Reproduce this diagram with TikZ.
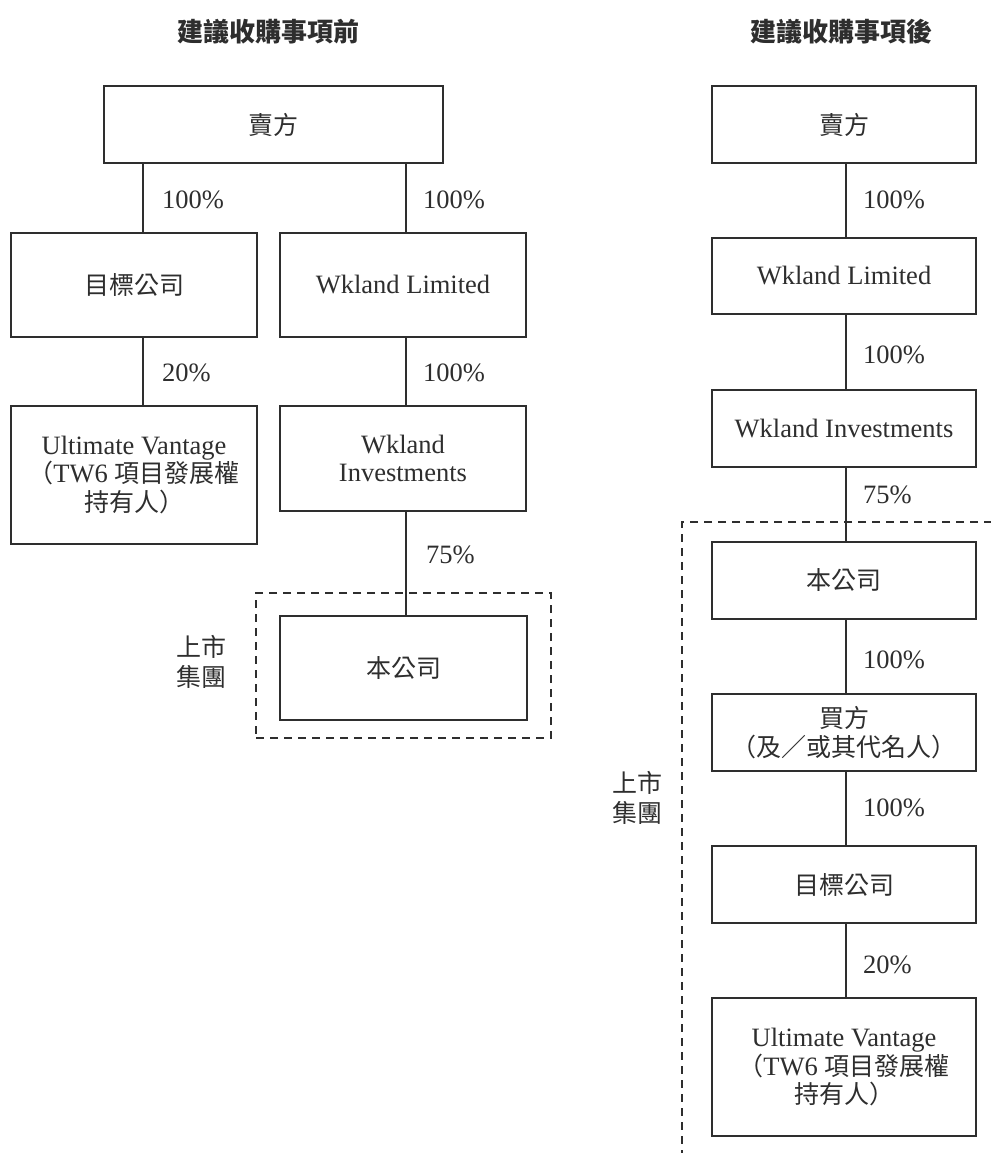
\documentclass[tikz,border=0pt]{standalone}
\usepackage{fontspec}
\setmainfont{Liberation Serif}
\newfontfamily\cjk{Noto Sans CJK TC}
\definecolor{ink}{HTML}{2E2E2E}
\tikzset{
  x=1pt, y=-1pt,
  every node/.style={text=ink, font=\fontsize{26.5}{28.5}\selectfont},
  entity/.style={draw=ink, line width=1.3pt, inner sep=0pt, align=center, fill=white},
  link/.style={draw=ink, line width=1.3pt},
  pct/.style={anchor=west, inner sep=0pt},
  frame/.style={draw=ink, line width=1.2pt, dash pattern=on 8pt off 6pt},
  heading/.style={font=\fontsize{26}{28}\selectfont\cjk\bfseries},
  grouplabel/.style={align=center, font=\fontsize{25}{30}\selectfont\cjk}
}
\newcommand{\zh}[1]{{\cjk\fontsize{25}{28.5}\selectfont #1}}
\begin{document}
\begin{tikzpicture}
\useasboundingbox (0,0) rectangle (990,1153);
% column guide coordinates
\coordinate (cLa) at (143,0);
\coordinate (cLb) at (406,0);
\coordinate (cR) at (846,0);

% titles
\node[heading] (titleL) at (268,32) {建議收購事項前};
\node[heading] (titleR) at (841,32) {建議收購事項後};

% ---------- left: before ----------
\node[frame, minimum width=295pt, minimum height=145pt, inner sep=0pt] (listedL) at (403.5,665.5) {};
\node[grouplabel] (listedLlab) at (201,662) {上市\\集團};

\node[entity, minimum width=339pt, minimum height=77pt] (sellerL) at (273.5,124.5) {\zh{賣方}};
\node[entity, minimum width=246pt, minimum height=104pt] (targetL) at (134,285) {\zh{目標公司}};
\node[entity, minimum width=246pt, minimum height=104pt] (wklL) at (403,285) {Wkland Limited};
\node[entity, minimum width=246pt, minimum height=138pt] (ultL) at (134,475) {Ultimate Vantage\\\zh{（}TW6 \zh{項目發展權}\\\zh{持有人）}};
\node[entity, minimum width=246pt, minimum height=105pt] (wkiL) at (403,458.5) {Wkland\\Investments};
\node[entity, minimum width=247pt, minimum height=104pt] (coL) at (403.5,668) {\zh{本公司}};

\draw[link] (sellerL.south -| cLa) -- (targetL.north -| cLa);
\draw[link] (sellerL.south -| cLb) -- (wklL.north -| cLb);
\draw[link] (targetL.south -| cLa) -- (ultL.north -| cLa);
\draw[link] (wklL.south -| cLb) -- (wkiL.north -| cLb);
\draw[link] (wkiL.south -| cLb) -- (coL.north -| cLb);

\node[pct] (pL1) at (162,200) {100\%};
\node[pct] (pL2) at (423,200) {100\%};
\node[pct] (pL3) at (162,373) {20\%};
\node[pct] (pL4) at (423,373) {100\%};
\node[pct] (pL5) at (426,555) {75\%};

% ---------- right: after ----------
\coordinate (frTR) at (992,522);
\coordinate (frTL) at (682,522);
\coordinate (frBL) at (682,1155);
\draw[frame] (frTR) -- (frTL) -- (frBL);
\node[grouplabel] (listedRlab) at (637,798) {上市\\集團};

\node[entity, minimum width=264pt, minimum height=77pt] (sellerR) at (844,124.5) {\zh{賣方}};
\node[entity, minimum width=264pt, minimum height=76pt] (wklR) at (844,276) {Wkland Limited};
\node[entity, minimum width=264pt, minimum height=77pt] (wkiR) at (844,428.5) {Wkland Investments};
\node[entity, minimum width=264pt, minimum height=77pt] (coR) at (844,580.5) {\zh{本公司}};
\node[entity, minimum width=264pt, minimum height=77pt] (buyerR) at (844,732.5) {\zh{買方}\\\zh{（及／或其代名人）}};
\node[entity, minimum width=264pt, minimum height=77pt] (targetR) at (844,884.5) {\zh{目標公司}};
\node[entity, minimum width=264pt, minimum height=138pt] (ultR) at (844,1067) {Ultimate Vantage\\\zh{（}TW6 \zh{項目發展權}\\\zh{持有人）}};

\draw[link] (sellerR.south -| cR) -- (wklR.north -| cR);
\draw[link] (wklR.south -| cR) -- (wkiR.north -| cR);
\draw[link] (wkiR.south -| cR) -- (coR.north -| cR);
\draw[link] (coR.south -| cR) -- (buyerR.north -| cR);
\draw[link] (buyerR.south -| cR) -- (targetR.north -| cR);
\draw[link] (targetR.south -| cR) -- (ultR.north -| cR);

\node[pct] (pR1) at (863,200) {100\%};
\node[pct] (pR2) at (863,355) {100\%};
\node[pct] (pR3) at (863,495) {75\%};
\node[pct] (pR4) at (863,660) {100\%};
\node[pct] (pR5) at (863,808) {100\%};
\node[pct] (pR6) at (863,965) {20\%};
\end{tikzpicture}
\end{document}
